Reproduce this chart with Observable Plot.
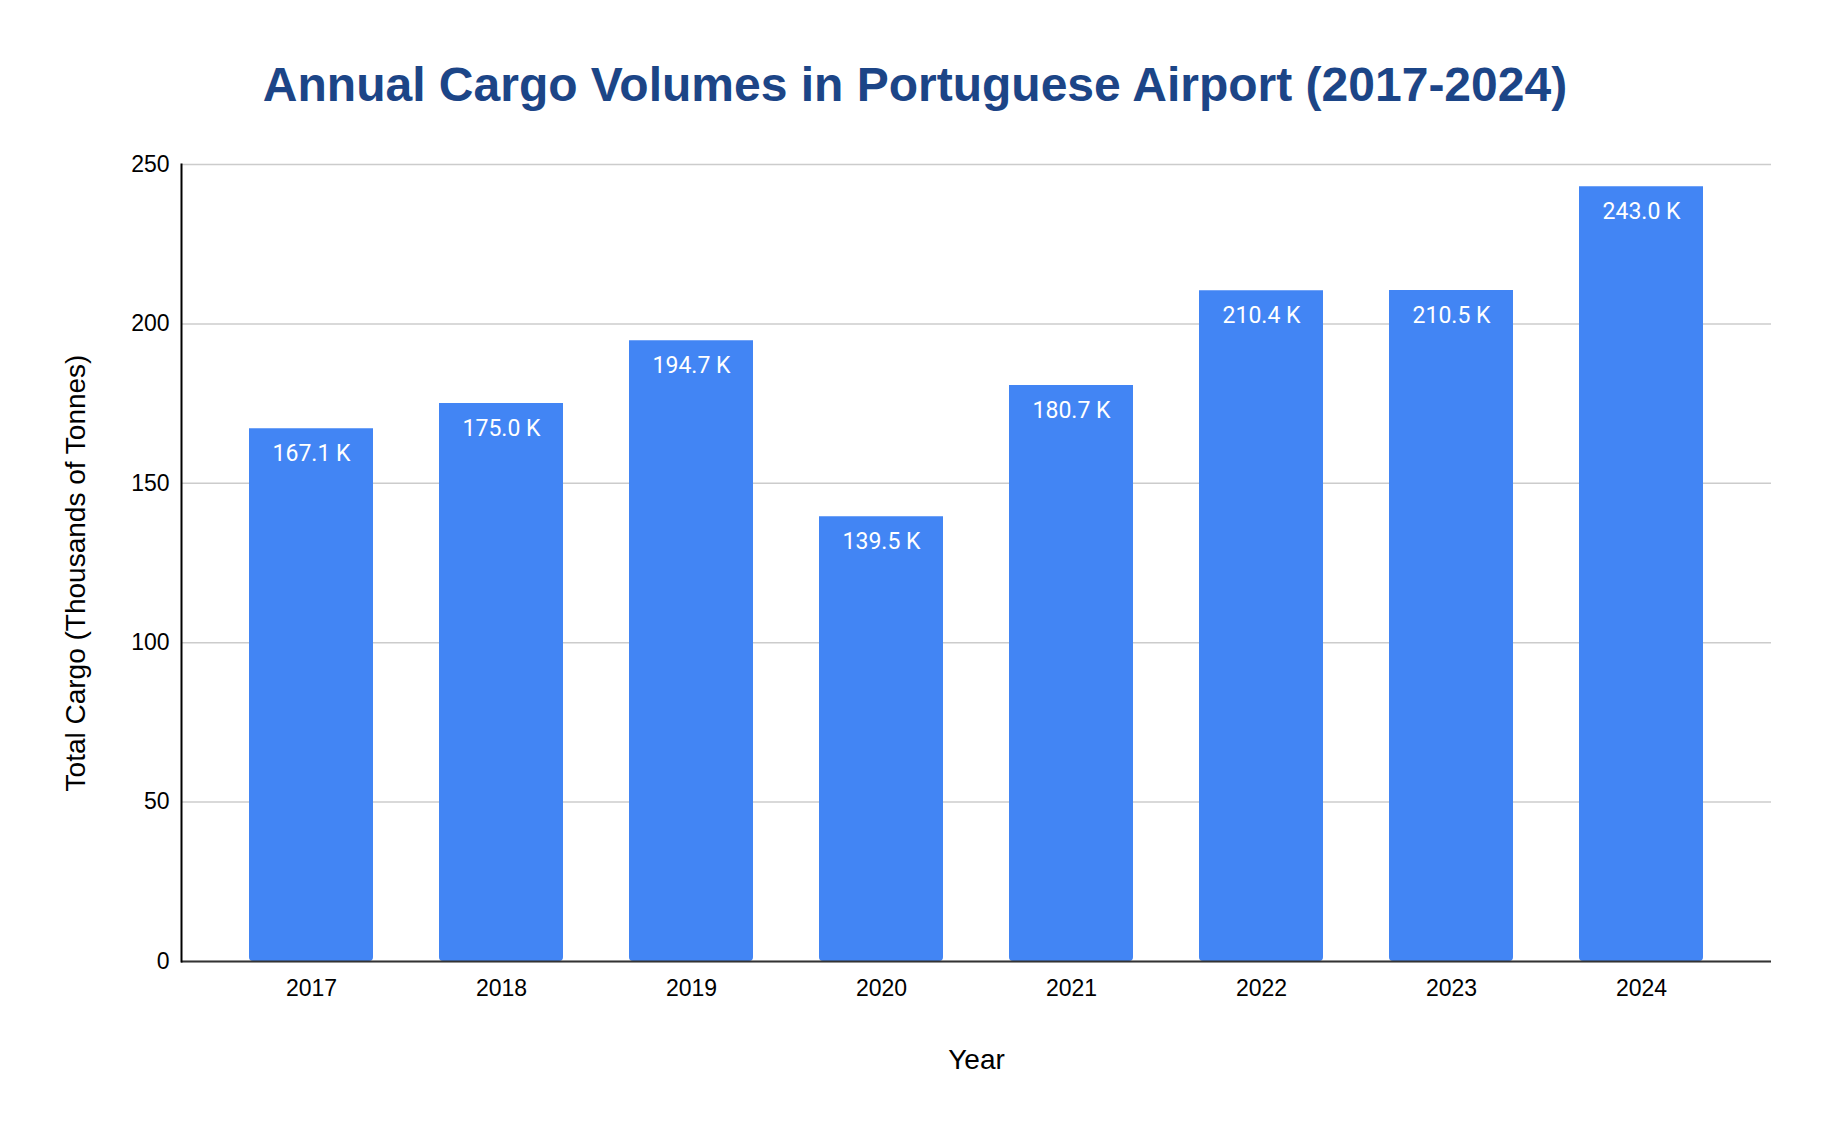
<!DOCTYPE html>
<html>
<head>
<meta charset="utf-8">
<script src="https://cdn.jsdelivr.net/npm/d3@7"></script>
<script src="https://cdn.jsdelivr.net/npm/@observablehq/plot@0.6"></script>
<style>
  html, body { margin: 0; padding: 0; background: #ffffff; }
  #wrap { width: 1830px; height: 1132px; overflow: hidden; }
  #title {
    box-sizing: border-box; height: 130px; padding-top: 61px;
    font-family: "Liberation Sans", Arial, sans-serif; font-weight: bold;
    font-size: 48px; line-height: 48px; color: #1c4587; text-align: center;
  }
  svg { display: block; }
</style>
</head>
<body>
<div id="wrap">
  <div id="title">Annual Cargo Volumes in Portuguese Airport (2017-2024)</div>
  <div id="chart"></div>
</div>
<script>
const years = ["2017", "2018", "2019", "2020", "2021", "2022", "2023", "2024"];
const cargo = [167.1, 175.0, 194.7, 139.5, 180.7, 210.4, 210.5, 243.0];
const yTicks = [0, 50, 100, 150, 200, 250];
const xTitle = "Year";
const yTitle = "Total Cargo (Thousands of Tonnes)";

const data = years.map((year, i) => ({year, cargo: cargo[i]}));

const chart = Plot.plot({
  width: 1830,
  height: 1002,
  marginTop: 34,
  marginBottom: 171,
  marginLeft: 181,
  marginRight: 59,
  style: {fontFamily: "'Liberation Sans', Arial, sans-serif", background: "white", color: "black"},
  x: {domain: years, padding: 0.35},
  y: {domain: [0, 250]},
  marks: [
    Plot.gridY(yTicks, {stroke: "#cccccc", strokeOpacity: 1, strokeWidth: 1.5}),
    Plot.barY(data, {x: "year", y: "cargo", fill: "#4285f4", rx1y2: 4, rx2y2: 4}),
    Plot.text(data, {
      x: "year", y: "cargo", text: d => d.cargo.toFixed(1) + " K",
      dy: 25, fill: "white", fontSize: 23, fontFamily: "Roboto, sans-serif"
    }),
    Plot.axisY(yTicks, {tickSize: 0, tickPadding: 12, fontSize: 23, label: null}),
    Plot.axisX({tickSize: 0, tickPadding: 18, fontSize: 23, label: null}),
    Plot.ruleY([0], {stroke: "#333333", strokeWidth: 2}),
    Plot.frame({anchor: "left", stroke: "black", strokeWidth: 2}),
    Plot.text([xTitle], {frameAnchor: "bottom", dy: 99, textAnchor: "middle", lineAnchor: "middle", fontSize: 28, fill: "black"}),
    Plot.text([yTitle], {frameAnchor: "left", dx: -105, dy: 10, rotate: -90, textAnchor: "middle", lineAnchor: "middle", fontSize: 28, fill: "black"})
  ]
});
document.getElementById("chart").appendChild(chart);
</script>
</body>
</html>
